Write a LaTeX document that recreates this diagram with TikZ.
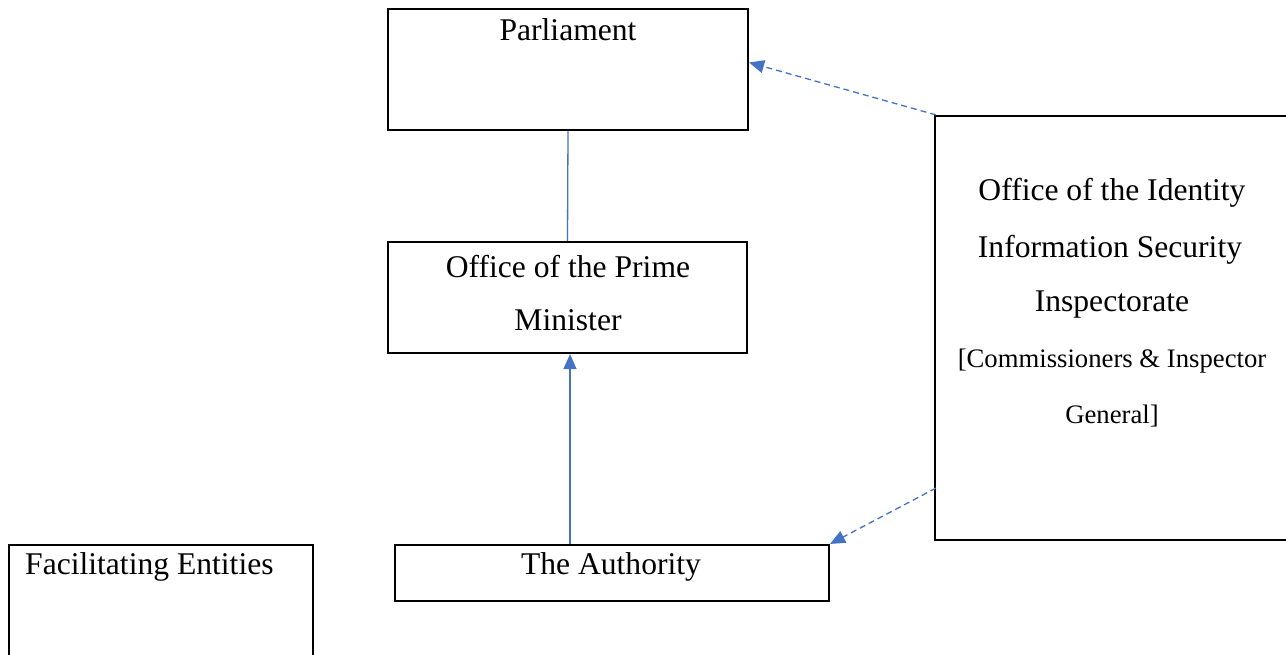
\documentclass[tikz,border=0pt]{standalone}
\usepackage{fontspec}
\setmainfont{Liberation Serif}
\usetikzlibrary{arrows.meta}
\definecolor{lnblue}{HTML}{4472C4}
\begin{document}
\begin{tikzpicture}[x=1pt,y=-1pt,
  box/.style={draw=black,line width=2.2pt,rectangle,inner sep=0pt},
  bigtxt/.style={font=\fontsize{31.6}{55}\selectfont,inner sep=0pt,align=center},
  smalltxt/.style={font=\fontsize{26.7}{55}\selectfont,inner sep=0pt,align=center},
  solidcon/.style={draw=lnblue,line width=1.3pt},
  arrcon/.style={draw=lnblue,line width=1.3pt,-{Triangle[length=15pt,width=13pt]},fill=lnblue},
  dashcon/.style={draw=lnblue,line width=1.3pt,dash pattern=on 6pt off 4pt,-{Triangle[length=15pt,width=13pt]}}
]
\useasboundingbox (0,0) rectangle (1286,654);
\fill[white] (0,0) rectangle (1286,654);
% boxes
\node[box,minimum width=360pt,minimum height=121pt] (par) at (568,69.5) {};
\node[box,minimum width=359pt,minimum height=111pt] (pm) at (567.5,297.5) {};
\node[box,minimum width=434pt,minimum height=56pt] (auth) at (612,573) {};
\node[box,minimum width=354pt,minimum height=424pt] (insp) at (1112,328) {};
\node[box,minimum width=304pt,minimum height=140pt] (fac) at (161,615) {};
% texts
\node[bigtxt] (partxt) at (568,30) {Parliament};
\node[bigtxt] (pmtxt1) at (568,267) {Office of the Prime};
\node[bigtxt] (pmtxt2) at (568,320) {Minister};
\node[bigtxt] (authtxt) at (611,567) {The Authority};
\node[bigtxt] (insp1) at (1112,193) {Office of the Identity};
\node[bigtxt] (insp2) at (1110,250) {Information Security};
\node[bigtxt] (insp3) at (1112,305) {Inspectorate};
\node[smalltxt] (insp4) at (1112,361) {[Commissioners \& Inspector};
\node[smalltxt] (insp5) at (1112,416) {General]};
\node[bigtxt,anchor=west] (factxt) at (25,567) {Facilitating Entities};
% connectors
\draw[solidcon] (par.south) -- (pm.north);
\draw[arrcon] ([xshift=2.5pt]pm.south |- auth.north) -- ([xshift=2.5pt]pm.south);
\draw[dashcon] ([xshift=2pt]insp.north west) -- ([yshift=7pt]par.east);
\draw[dashcon] ([xshift=2pt,yshift=53pt]insp.south west) -- (auth.north east);
\end{tikzpicture}
\end{document}
